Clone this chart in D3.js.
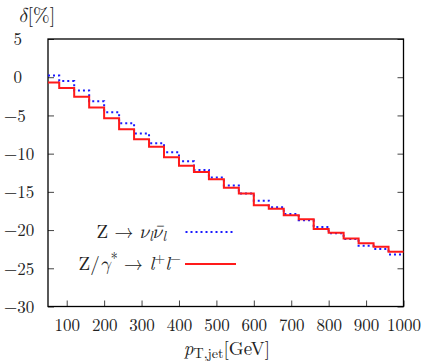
<!DOCTYPE html>
<html>
<head>
<meta charset="utf-8">
<script src="https://cdn.jsdelivr.net/npm/d3@7/dist/d3.min.js"></script>
<style>
html,body{margin:0;padding:0;background:#fff;}
</style>
</head>
<body>
<svg id="chart" width="425" height="363"></svg>
<script>
// Bin edges (GeV)
const binEdges = [50,80,120,160,200,240,280,320,360,400,440,480,520,560,600,640,680,720,760,800,840,880,920,960,1000];
// δ[%] for Z -> ν ν̄ (blue dotted)
const nunuValues = [0.24,-0.51,-1.73,-3.13,-4.57,-6.01,-7.37,-8.63,-9.81,-11.0,-12.13,-13.13,-14.18,-15.2,-16.15,-17.02,-17.9,-18.73,-19.6,-20.43,-21.18,-22.05,-22.49,-23.18];
// δ[%] for Z/γ* -> l+ l- (red solid)
const llValues = [-0.68,-1.42,-2.56,-3.96,-5.36,-6.8,-8.11,-9.11,-10.47,-11.6,-12.4,-13.35,-14.45,-15.23,-16.76,-17.2,-18.07,-18.6,-19.87,-20.34,-21.09,-21.74,-22.18,-22.83];
const xTicks = [100,200,300,400,500,600,700,800,900,1000];
const yTicks = [5,0,-5,-10,-15,-20,-25,-30];

const FONT = "'Latin Modern Roman','Latin Modern Math','Liberation Serif',serif";
const svg = d3.select("#chart");
const L = 48, R = 403.5, T = 39, B = 306.5;
const x = d3.scaleLinear().domain([50,1000]).range([L,R]);
const y = d3.scaleLinear().domain([-30,5]).range([B,T]);

// axes
const gx = svg.append("g").attr("transform",`translate(0,${B})`)
  .call(d3.axisBottom(x).tickValues(xTicks).tickSize(-6).tickPadding(0).tickFormat(d3.format("d")));
gx.select(".domain").remove();
gx.selectAll(".tick line").attr("stroke","#444").attr("stroke-width",1);
gx.selectAll(".tick text").attr("y",24).attr("dy",0).attr("fill","#222")
  .style("font-family",FONT).style("font-size","17px");

const gy = svg.append("g").attr("transform",`translate(${L},0)`)
  .call(d3.axisLeft(y).tickValues(yTicks).tickSize(-6).tickPadding(0)
    .tickFormat(d => d < 0 ? "\u2212" + Math.abs(d) : String(d)));
gy.select(".domain").remove();
gy.selectAll(".tick line").attr("stroke","#444").attr("stroke-width",1);
gy.selectAll(".tick text").attr("text-anchor","start")
  .attr("x", d => d < 0 ? -44 : -34.5).attr("dy","0.34em").attr("fill","#222")
  .style("font-family",FONT).style("font-size","17px");

const gy2 = svg.append("g").attr("transform",`translate(${R},0)`)
  .call(d3.axisRight(y).tickValues(yTicks).tickSize(-6).tickFormat(""));
gy2.select(".domain").remove();
gy2.selectAll(".tick line").attr("stroke","#444").attr("stroke-width",1);

// frame
svg.append("rect").attr("x",L).attr("y",T).attr("width",R-L).attr("height",B-T)
  .attr("fill","none").attr("stroke","#000").attr("stroke-width",1.3);

// step lines
function stepPoints(vals){
  const pts = vals.map((v,i)=>[binEdges[i],v]);
  pts.push([binEdges[binEdges.length-1], vals[vals.length-1]]);
  return pts;
}
const line = d3.line().x(d=>x(d[0])).y(d=>y(d[1])).curve(d3.curveStepAfter);

svg.append("path").datum(stepPoints(nunuValues)).attr("d",line)
  .attr("fill","none").attr("stroke","#1a1aff").attr("stroke-width",2).attr("stroke-dasharray","2,3");
svg.append("path").datum(stepPoints(llValues)).attr("d",line)
  .attr("fill","none").attr("stroke","#ff1a1a").attr("stroke-width",2);

function txt(sel, size){ return sel.style("font-family",FONT).style("font-size",size+"px").attr("fill","#222"); }

// legend
const t1 = txt(svg.append("text"),19).attr("x",166).attr("y",238).attr("text-anchor","end");
t1.append("tspan").text("Z \u2192 ");
t1.append("tspan").attr("font-style","italic").text("\u03BD");
t1.append("tspan").attr("font-style","italic").style("font-size","14px").attr("dy",3).text("l");
t1.append("tspan").attr("font-style","italic").attr("dy",-3).text("\u03BD\u0304");
t1.append("tspan").attr("font-style","italic").style("font-size","14px").attr("dy",3).text("l");
svg.append("line").attr("x1",185.5).attr("x2",234).attr("y1",232).attr("y2",232)
  .attr("stroke","#1a1aff").attr("stroke-width",2).attr("stroke-dasharray","2,3");

const t2 = txt(svg.append("text"),19).attr("x",181).attr("y",270).attr("text-anchor","end");
t2.append("tspan").text("Z/");
t2.append("tspan").attr("font-style","italic").text("\u03B3");
t2.append("tspan").style("font-size","14px").attr("dy",-7).text("*");
t2.append("tspan").attr("dy",7).text(" \u2192 ");
t2.append("tspan").attr("font-style","italic").text("l");
t2.append("tspan").style("font-size","14px").attr("dy",-7).text("+");
t2.append("tspan").attr("font-style","italic").attr("dy",7).text("l");
t2.append("tspan").style("font-size","14px").attr("dy",-7).text("\u2212");
svg.append("line").attr("x1",185).attr("x2",236).attr("y1",264).attr("y2",264)
  .attr("stroke","#ff1a1a").attr("stroke-width",2);

// axis titles
const xl = txt(svg.append("text"),19).attr("x",227).attr("y",355).attr("text-anchor","middle");
xl.append("tspan").attr("font-style","italic").text("p");
xl.append("tspan").style("font-size","14px").attr("dy",2.5).text("T,jet");
xl.append("tspan").attr("dy",-2.5).text("[GeV]");

const yl = txt(svg.append("text"),20).attr("x",18).attr("y",22);
yl.append("tspan").attr("font-style","italic").text("\u03B4");
yl.append("tspan").text("[%]");
</script>
</body>
</html>
